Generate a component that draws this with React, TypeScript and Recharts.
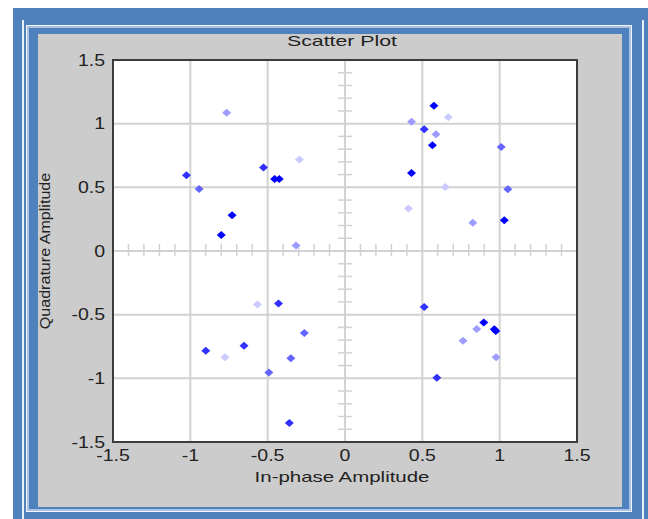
import React from "react";
import {
  ScatterChart,
  Scatter,
  XAxis,
  YAxis,
  CartesianGrid,
  ReferenceLine,
  ReferenceArea,
  Label,
  Customized,
} from "recharts";

// ---- data ----
const chartTitle = "Scatter Plot";
const xLabel = "In-phase Amplitude";
const yLabel = "Quadrature Amplitude";
const axisTicks = [-1.5, -1, -0.5, 0, 0.5, 1, 1.5];
const minorTicks = [
  -1.4, -1.3, -1.2, -1.1, -0.9, -0.8, -0.7, -0.6, -0.4, -0.3, -0.2, -0.1,
  0.1, 0.2, 0.3, 0.4, 0.6, 0.7, 0.8, 0.9, 1.1, 1.2, 1.3, 1.4,
];

const darkPts = [
  { x: -0.73, y: 0.28 },
  { x: -0.8, y: 0.125 },
  { x: -0.455, y: 0.566 },
  { x: -0.425, y: 0.566 },
  { x: 0.575, y: 1.14 },
  { x: 0.565, y: 0.83 },
  { x: 0.43, y: 0.613 },
  { x: 1.03, y: 0.242 },
  { x: 0.897, y: -0.561 },
  { x: 0.965, y: -0.615 },
  { x: 0.975, y: -0.628 },
];
const midDarkPts = [
  { x: -1.025, y: 0.595 },
  { x: -0.527, y: 0.655 },
  { x: 0.512, y: 0.956 },
  { x: -0.43, y: -0.412 },
  { x: -0.653, y: -0.744 },
  { x: -0.36, y: -1.35 },
  { x: 0.512, y: -0.44 },
  { x: 0.594, y: -0.995 },
  { x: -0.9, y: -0.783 },
];
const midPts = [
  { x: -0.943, y: 0.486 },
  { x: 1.01, y: 0.817 },
  { x: 1.053, y: 0.485 },
  { x: -0.263, y: -0.644 },
  { x: -0.35, y: -0.843 },
  { x: -0.492, y: -0.955 },
];
const lightPts = [
  { x: -0.765, y: 1.086 },
  { x: -0.317, y: 0.043 },
  { x: 0.43, y: 1.016 },
  { x: 0.588, y: 0.917 },
  { x: 0.826, y: 0.221 },
  { x: 0.852, y: -0.613 },
  { x: 0.763, y: -0.704 },
  { x: 0.977, y: -0.835 },
];
const veryLightPts = [
  { x: -0.295, y: 0.718 },
  { x: 0.668, y: 1.05 },
  { x: 0.648, y: 0.503 },
  { x: 0.41, y: 0.333 },
  { x: -0.566, y: -0.42 },
  { x: -0.776, y: -0.835 },
];

const series = [
  { name: "s5", data: veryLightPts, color: "#cacaff" },
  { name: "s4", data: lightPts, color: "#9c9cff" },
  { name: "s3", data: midPts, color: "#6464ff" },
  { name: "s2", data: midDarkPts, color: "#3030ff" },
  { name: "s1", data: darkPts, color: "#0000ff" },
];

const FONT = "'Liberation Sans', Arial, sans-serif";
const GRID = "#d2d2d2";

const makeDiamond = (color: string) => (props: any) => {
  const { cx, cy } = props;
  if (cx == null || cy == null) return <g />;
  const w = 4.5;
  const h = 4;
  return (
    <polygon
      points={`${cx - w},${cy} ${cx},${cy - h} ${cx + w},${cy} ${cx},${cy + h}`}
      fill={color}
    />
  );
};

const XTick = (props: any) => {
  const { x, y, payload } = props;
  return (
    <text
      transform={`translate(${x},${y}) scale(1.22,1)`}
      textAnchor="middle"
      dy="0.71em"
      fontSize={16}
      fontFamily={FONT}
      fill="#222"
    >
      {String(payload.value)}
    </text>
  );
};

const YTick = (props: any) => {
  const { x, y, payload } = props;
  return (
    <text
      transform={`translate(${x},${y}) scale(1.22,1)`}
      textAnchor="end"
      dy="0.36em"
      fontSize={16}
      fontFamily={FONT}
      fill="#222"
    >
      {String(payload.value)}
    </text>
  );
};

const XLabelContent = (props: any) => {
  const vb = props.viewBox || {};
  const cx = vb.x + vb.width / 2 - 3;
  const cy = vb.y + 40;
  return (
    <text
      transform={`translate(${cx},${cy}) scale(1.46,1)`}
      textAnchor="middle"
      fontSize={14}
      fontFamily={FONT}
      fill="#222"
    >
      {xLabel}
    </text>
  );
};

const YLabelContent = (props: any) => {
  const vb = props.viewBox || {};
  const cx = vb.x + 12;
  const cy = vb.y + vb.height / 2;
  return (
    <text
      transform={`translate(${cx},${cy}) rotate(-90) scale(1.15,1)`}
      textAnchor="middle"
      fontSize={14}
      fontFamily={FONT}
      fill="#222"
    >
      {yLabel}
    </text>
  );
};

const Title = () => (
  <text
    transform={`translate(342,45.5) scale(1.42,1)`}
    textAnchor="middle"
    fontSize={15}
    fontFamily={FONT}
    fill="#222"
  >
    {chartTitle}
  </text>
);

export default function App() {
  return (
    <div
      style={{
        position: "absolute",
        left: 0,
        top: 0,
        width: 648,
        height: 519,
        background: "#ffffff",
        overflow: "hidden",
      }}
    >
      {/* outer blue frame */}
      <div style={{ position: "absolute", left: 13, top: 8, width: 635, height: 511, background: "#4f81bd" }} />
      <div style={{ position: "absolute", left: 22, top: 20, width: 1.5, height: 499, background: "#e9f0fa" }} />
      <div style={{ position: "absolute", left: 642, top: 20, width: 1.5, height: 499, background: "#e9f0fa" }} />
      <div
        style={{
          position: "absolute",
          left: 26,
          top: 25,
          width: 606,
          height: 487,
          boxSizing: "border-box",
          border: "1px solid #f2f6fc",
        }}
      />
      <div
        style={{
          position: "absolute",
          left: 27,
          top: 26,
          width: 604,
          height: 485,
          boxSizing: "border-box",
          border: "2px solid #a9c2e4",
        }}
      />
      <div style={{ position: "absolute", left: 38, top: 34, width: 584, height: 473, background: "#cccccc" }} />
      {/* plot background */}
      <div style={{ position: "absolute", left: 113, top: 60, width: 464, height: 382, background: "#ffffff" }} />

      <div style={{ position: "absolute", left: 0, top: 0 }}>
        <ScatterChart
          width={648}
          height={519}
          margin={{ top: 60, right: 71, bottom: 27, left: 38 }}
        >
          <CartesianGrid stroke={GRID} strokeWidth={2} />
          <XAxis
            type="number"
            dataKey="x"
            domain={[-1.5, 1.5]}
            ticks={axisTicks}
            axisLine={false}
            tickLine={false}
            tickSize={0}
            tickMargin={8}
            height={50}
            tick={<XTick />}
            interval={0}
            allowDataOverflow
          >
            <Label content={<XLabelContent />} />
          </XAxis>
          <YAxis
            type="number"
            dataKey="y"
            domain={[-1.5, 1.5]}
            ticks={axisTicks}
            axisLine={false}
            tickLine={false}
            tickSize={0}
            tickMargin={8}
            width={75}
            tick={<YTick />}
            interval={0}
            allowDataOverflow
          >
            <Label content={<YLabelContent />} />
          </YAxis>
          {minorTicks.map((v) => (
            <ReferenceLine
              key={"vx" + v}
              segment={[
                { x: v, y: -0.04 },
                { x: v, y: 0.055 },
              ]}
              stroke={GRID}
              strokeWidth={1.5}
              ifOverflow="visible"
            />
          ))}
          {minorTicks.map((v) => (
            <ReferenceLine
              key={"hy" + v}
              segment={[
                { x: -0.045, y: v },
                { x: 0.045, y: v },
              ]}
              stroke={GRID}
              strokeWidth={1.5}
              ifOverflow="visible"
            />
          ))}
          <ReferenceArea
            x1={-1.5}
            x2={1.5}
            y1={-1.5}
            y2={1.5}
            fill="none"
            fillOpacity={0}
            stroke="#3c3c3c"
            strokeWidth={2}
            ifOverflow="visible"
          />
          {series.map((s) => (
            <Scatter
              key={s.name}
              name={s.name}
              data={s.data}
              fill={s.color}
              shape={makeDiamond(s.color)}
              isAnimationActive={false}
            />
          ))}
          <Customized component={<Title />} />
        </ScatterChart>
      </div>
    </div>
  );
}
